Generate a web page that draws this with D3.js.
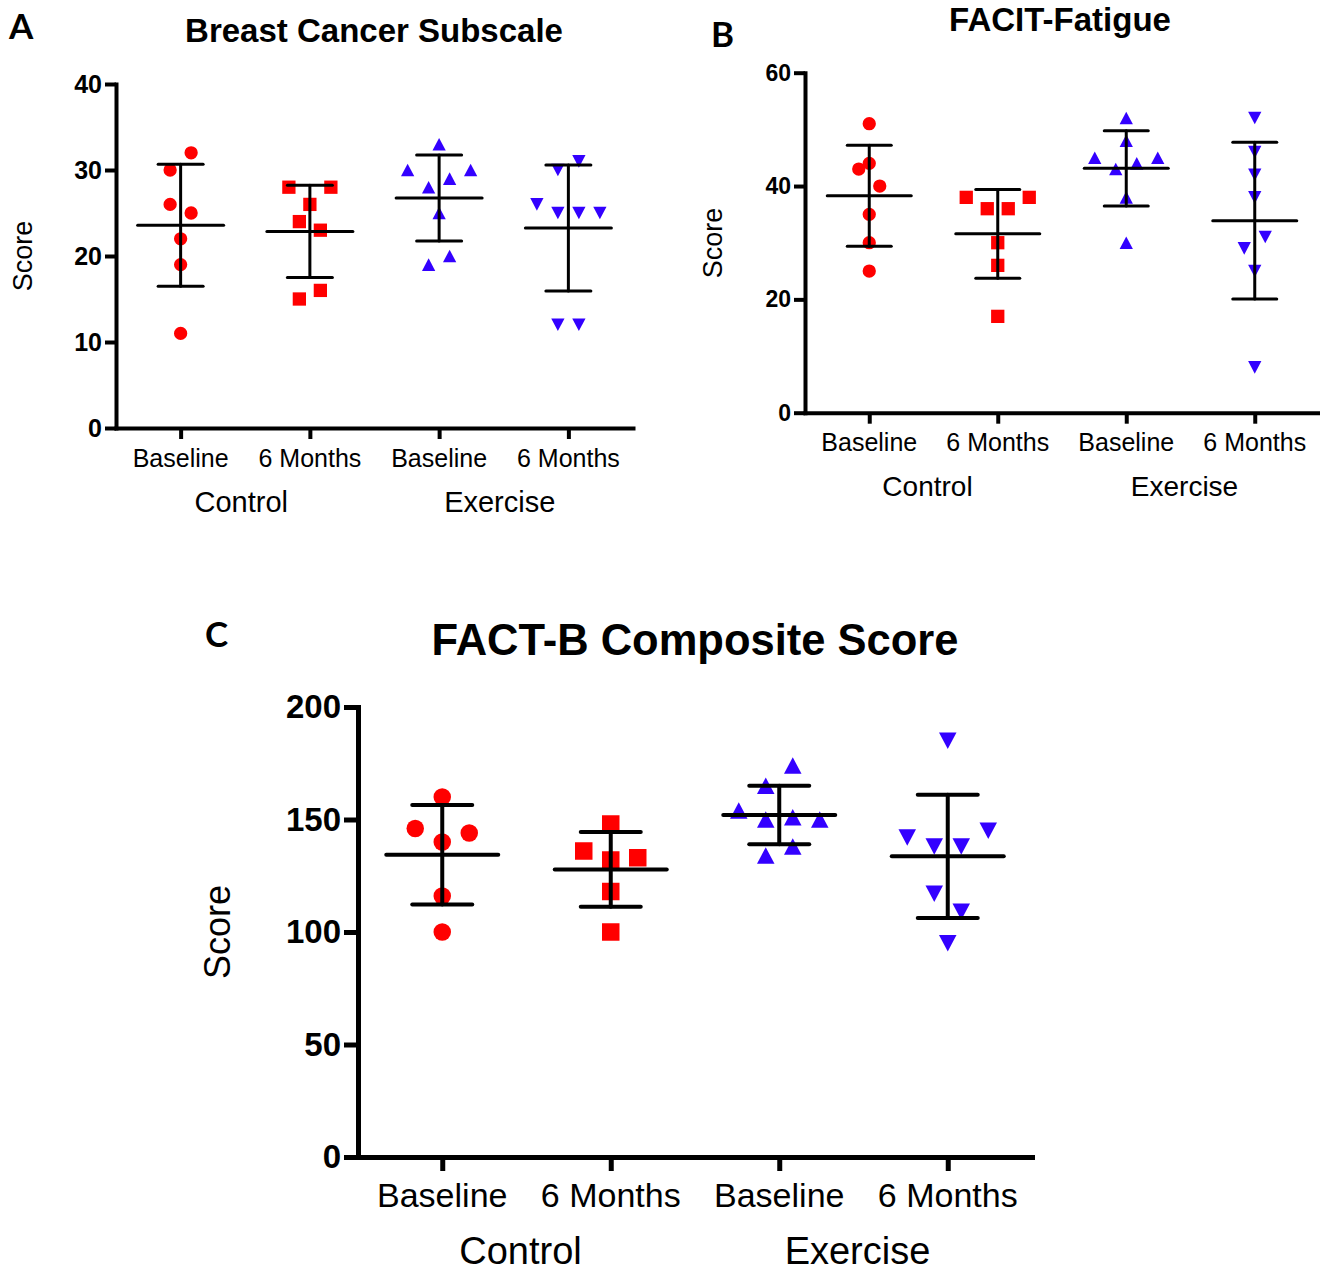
<!DOCTYPE html>
<html>
<head>
<meta charset="utf-8">
<script src="https://cdn.jsdelivr.net/npm/d3@7"></script>
<style>
  html, body { margin: 0; padding: 0; background: #fff; }
  svg { display: block; }
  text { font-family: "Liberation Sans", Arial, Helvetica, sans-serif; fill: #000; }
  .letter { font-family: Lato, "Open Sans", sans-serif; font-weight: 700; }
</style>
</head>
<body>
<svg id="fig" width="1320" height="1271"></svg>
<script>
// Study arms and time points (x categories)
const groups = ["Control", "Exercise"];
const timepoints = ["Baseline", "6 Months"];

// Breast Cancer Subscale scores per participant
const bcsCtrlBase = [30, 32, 26, 25, 22, 19, 11];
const bcsCtrl6m   = [28, 26, 28, 24, 23, 15, 16];
const bcsExBase   = [33, 30, 28, 29, 30, 25, 19, 20];
const bcsEx6m     = [30, 31, 26, 25, 25, 25, 12, 12];

// FACIT-Fatigue scores
const facitCtrlBase = [51, 44, 43, 40, 35, 30, 25];
const facitCtrl6m   = [38, 36, 36, 38, 30, 26, 17];
const facitExBase   = [52, 48, 45, 43, 44, 45, 38, 30];
const facitEx6m     = [52, 46, 42, 38, 29, 31, 25, 8];

// FACT-B composite scores
const factbCtrlBase = [160, 146, 140, 144, 116, 100];
const factbCtrl6m   = [148, 136, 132, 133, 118, 100];
const factbExBase   = [165, 174, 154, 150, 151, 150, 134, 138];
const factbEx6m     = [185, 142, 138, 138, 145, 117, 109, 95];

// Y tick values
const bcsTicks   = [0, 10, 20, 30, 40];
const facitTicks = [0, 20, 40, 60];
const factbTicks = [0, 50, 100, 150, 200];

// ---- symbol shapes (bounding box centred on the data point) ----
const triUp = {
  draw(ctx, size) {
    const w = Math.sqrt(size), h = w * 0.95;
    ctx.moveTo(0, -h / 2); ctx.lineTo(w / 2, h / 2); ctx.lineTo(-w / 2, h / 2); ctx.closePath();
  }
};
const triDown = {
  draw(ctx, size) {
    const w = Math.sqrt(size), h = w * 0.95;
    ctx.moveTo(0, h / 2); ctx.lineTo(w / 2, -h / 2); ctx.lineTo(-w / 2, -h / 2); ctx.closePath();
  }
};
const RED = "#ff0000", BLUE = "#3300ff";
const columnStyle = [
  { type: d3.symbolCircle, color: RED, k: Math.PI / 4 },
  { type: d3.symbolSquare, color: RED, k: 1 },
  { type: triUp, color: BLUE, k: 1 },
  { type: triDown, color: BLUE, k: 1 }
];

// Column keys for the point scale
const columns = groups.flatMap(g => timepoints.map(t => g + "|" + t));

// Horizontal spreading of points with close values (side-by-side scatter)
function spread(values, y, step) {
  const order = d3.range(values.length).sort((a, b) => values[a] - values[b] || a - b);
  const off = new Array(values.length).fill(0);
  let cluster = [], start = 0;
  const flush = () => {
    cluster.sort((a, b) => a - b);
    cluster.forEach((idx, k) => { off[idx] = (k - (cluster.length - 1) / 2) * step; });
  };
  for (const i of order) {
    const py = y(values[i]);
    if (cluster.length && Math.abs(py - start) < 0.9 * step) cluster.push(i);
    else { if (cluster.length) flush(); cluster = [i]; start = py; }
  }
  if (cluster.length) flush();
  return off;
}

const svg = d3.select("#fig");

const panels = [
  {
    letter: "A", letterPos: [9, 39], letterSize: 35,
    title: "Breast Cancer Subscale", titlePos: [374, 42], titleSize: 33,
    series: [bcsCtrlBase, bcsCtrl6m, bcsExBase, bcsEx6m],
    domain: [0, 40], ticks: bcsTicks,
    x0: 116, x1: 633, yBottom: 428, yTop: 84,
    axisW: 4, tickLen: 11, tickFont: 25,
    catFont: 25, catY: 467, grpFont: 29, grpY: 512, grpShift: -4,
    scoreX: 22, scoreY: 256, scoreFont: 27,
    sym: 13.3, step: 21, meanHalf: 43, capHalf: 22.5, barW: 3
  },
  {
    letter: "B", letterPos: [711, 47], letterSize: 35,
    title: "FACIT-Fatigue", titlePos: [1060, 31], titleSize: 33,
    series: [facitCtrlBase, facitCtrl6m, facitExBase, facitEx6m],
    domain: [0, 60], ticks: facitTicks,
    x0: 805, x1: 1319, yBottom: 412.7, yTop: 72.7,
    axisW: 4, tickLen: 11, tickFont: 23,
    catFont: 25, catY: 451, grpFont: 28, grpY: 496, grpShift: -6,
    scoreX: 712, scoreY: 243, scoreFont: 27,
    sym: 13.3, step: 21, meanHalf: 42, capHalf: 22, barW: 3
  },
  {
    letter: "C", letterPos: [205, 647], letterSize: 35,
    title: "FACT-B Composite Score", titlePos: [695, 655], titleSize: 43.5,
    series: [factbCtrlBase, factbCtrl6m, factbExBase, factbEx6m],
    domain: [0, 200], ticks: factbTicks,
    x0: 358, x1: 1032, yBottom: 1157, yTop: 707,
    axisW: 5, tickLen: 14, tickFont: 33,
    catFont: 34, catY: 1207, grpFont: 38, grpY: 1264, grpShift: -6,
    scoreX: 217, scoreY: 932, scoreFont: 36,
    sym: 17.5, step: 27, meanHalf: 56, capHalf: 30, barW: 4
  }
];

panels.forEach(p => {
  const g = svg.append("g");
  const y = d3.scaleLinear().domain(p.domain).range([p.yBottom, p.yTop]);
  const x = d3.scalePoint().domain(columns).range([p.x0, p.x1]).padding(0.5);

  // panel letter and title
  g.append("text").attr("class", "letter")
    .attr("x", p.letterPos[0]).attr("y", p.letterPos[1])
    .attr("font-size", p.letterSize).text(p.letter);
  g.append("text")
    .attr("x", p.titlePos[0]).attr("y", p.titlePos[1])
    .attr("text-anchor", "middle").attr("font-weight", 700)
    .attr("font-size", p.titleSize).text(p.title);

  // y axis
  const ya = g.append("g").attr("transform", `translate(${p.x0},0)`)
    .call(d3.axisLeft(y).tickValues(p.ticks).tickSize(p.tickLen).tickSizeOuter(0).tickPadding(3));
  ya.select(".domain").attr("stroke-width", p.axisW).attr("stroke-linecap", "square");
  ya.selectAll(".tick line").attr("stroke-width", p.axisW);
  ya.selectAll(".tick text").attr("font-size", p.tickFont).attr("font-weight", 700)
    .attr("font-family", "'Liberation Sans', Arial, sans-serif").attr("fill", "#000");

  // x axis
  const xa = g.append("g").attr("transform", `translate(0,${p.yBottom})`)
    .call(d3.axisBottom(x).tickSize(p.tickLen).tickSizeOuter(0).tickFormat(d => d.split("|")[1]));
  xa.select(".domain").attr("stroke-width", p.axisW).attr("stroke-linecap", "square");
  xa.selectAll(".tick line").attr("stroke-width", p.axisW);
  xa.selectAll(".tick text").remove();
  g.selectAll(".cat").data(columns).join("text")
    .attr("x", d => x(d)).attr("y", p.catY)
    .attr("text-anchor", "middle").attr("font-size", p.catFont)
    .text(d => d.split("|")[1]);

  // group labels centred under each pair of columns
  g.selectAll(".grp").data(groups).join("text")
    .attr("x", grp => d3.mean(timepoints, t => x(grp + "|" + t)) + p.grpShift)
    .attr("y", p.grpY).attr("text-anchor", "middle")
    .attr("font-size", p.grpFont).text(grp => grp);

  // y axis title
  g.append("text")
    .attr("transform", `translate(${p.scoreX},${p.scoreY}) rotate(-90)`)
    .attr("dy", "0.36em").attr("text-anchor", "middle")
    .attr("font-size", p.scoreFont).text("Score");

  // points, then mean ± SD bars on top
  p.series.forEach((vals, ci) => {
    const cx = x(columns[ci]);
    const st = columnStyle[ci];
    const off = spread(vals, y, p.step);
    const sym = d3.symbol().type(st.type).size(p.sym * p.sym * st.k);
    g.append("g").selectAll("path").data(vals).join("path")
      .attr("d", sym)
      .attr("transform", (v, i) => `translate(${cx + off[i]},${y(v)})`)
      .attr("fill", st.color);

    const m = d3.mean(vals), sd = d3.deviation(vals);
    const bars = g.append("g").attr("stroke", "#000").attr("stroke-width", p.barW)
      .attr("stroke-linecap", "round");
    bars.append("line").attr("x1", cx).attr("x2", cx).attr("y1", y(m + sd)).attr("y2", y(m - sd));
    bars.append("line").attr("x1", cx - p.meanHalf).attr("x2", cx + p.meanHalf).attr("y1", y(m)).attr("y2", y(m));
    [m + sd, m - sd].forEach(v => {
      bars.append("line").attr("x1", cx - p.capHalf).attr("x2", cx + p.capHalf).attr("y1", y(v)).attr("y2", y(v));
    });
  });
});
</script>
</body>
</html>
